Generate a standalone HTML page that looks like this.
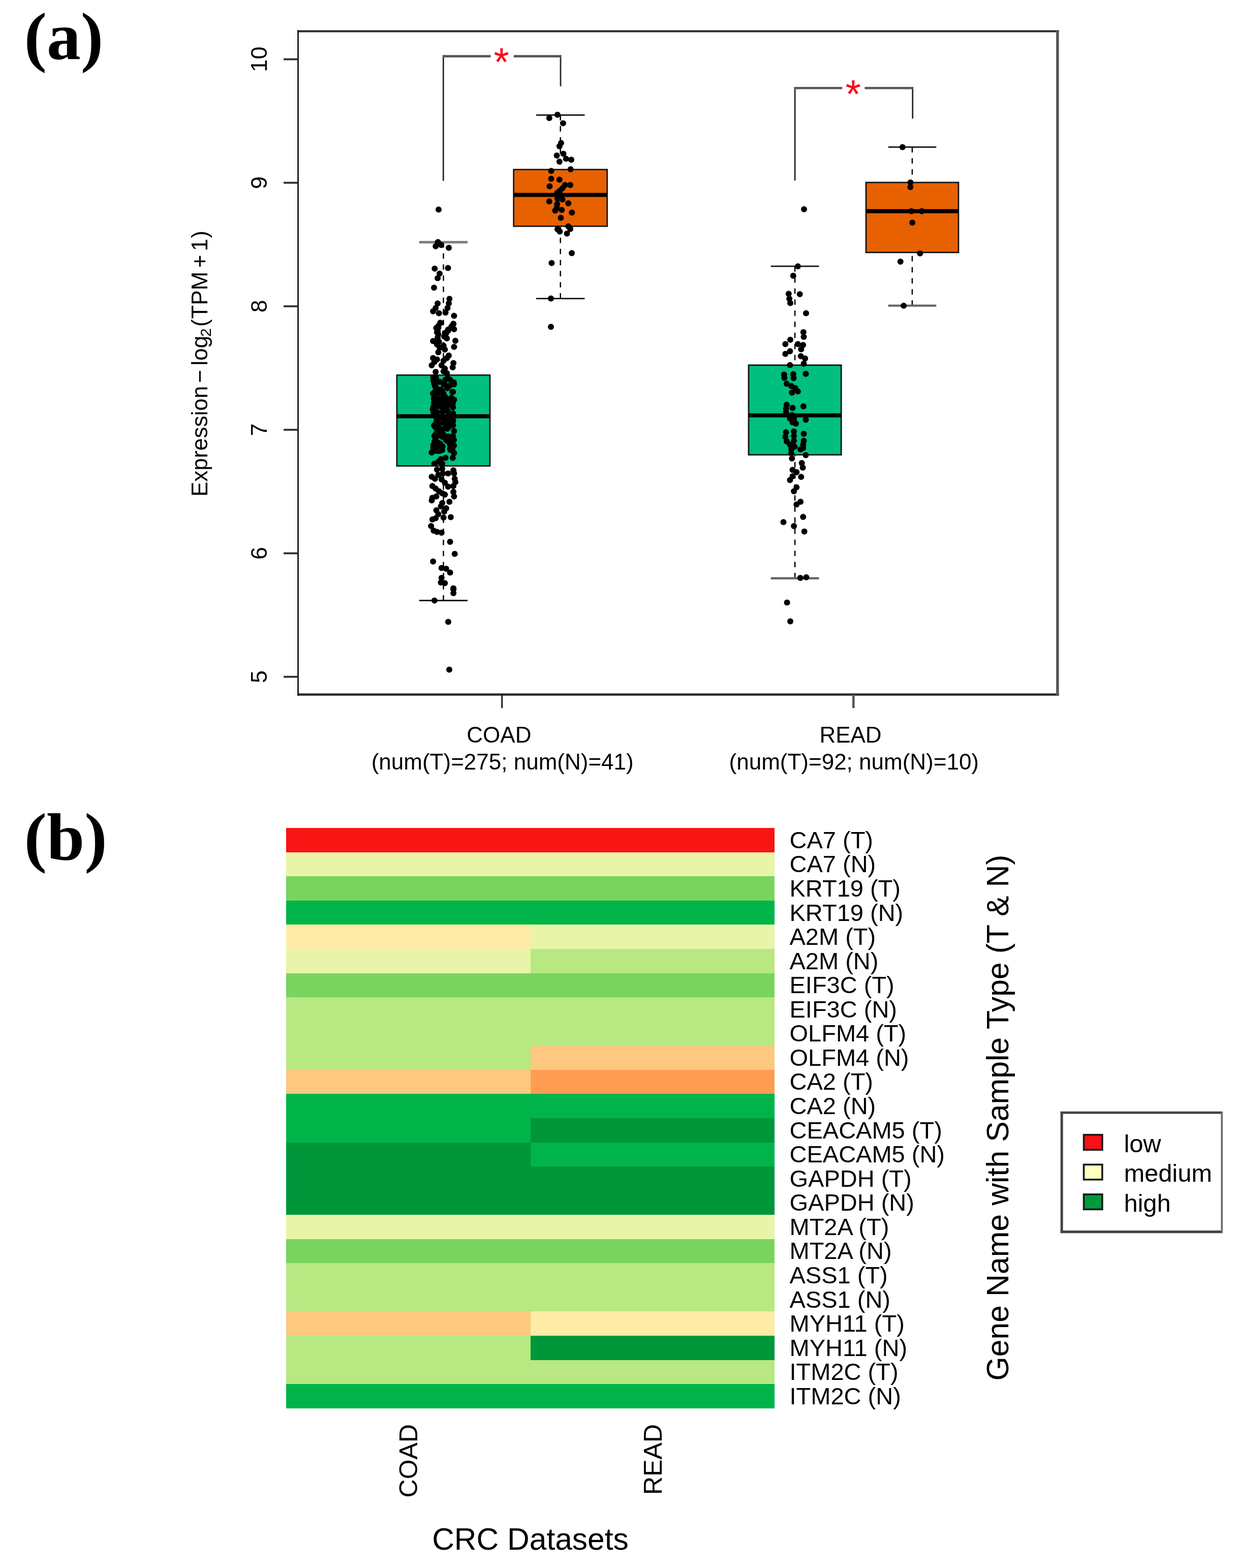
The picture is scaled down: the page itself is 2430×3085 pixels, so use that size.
<!DOCTYPE html>
<html lang="en"><head><meta charset="utf-8"><title>Figure</title>
<style>html,body{margin:0;padding:0;background:#fff}svg{display:block;filter:blur(0.7px)}text{white-space:pre}.s{font-family:"Liberation Sans",sans-serif}.b{font-family:"Liberation Serif",serif;font-weight:bold}</style>
</head><body>
<svg width="2430" height="3085" viewBox="0 0 2430 3085">
<rect width="2430" height="3085" fill="#fff"/>
<text transform="translate(47.5,115.7) scale(1.02,1)" class="b" font-size="131" fill="#000">(a)</text>
<text transform="translate(47.5,1691.4) scale(1.02,1)" class="b" font-size="131" fill="#000">(b)</text>
<line x1="872.5" y1="476.6" x2="872.5" y2="736.6" stroke="#000" stroke-width="2.5" stroke-dasharray="10.6 11.2"/>
<line x1="872.5" y1="1181.5" x2="872.5" y2="918.1" stroke="#000" stroke-width="2.5" stroke-dasharray="10.6 11.2"/>
<line x1="824.9" y1="476.6" x2="920.0" y2="476.6" stroke="#808080" stroke-width="5"/>
<line x1="824.9" y1="1181.5" x2="920.0" y2="1181.5" stroke="#111" stroke-width="2.8"/>
<rect x="780.9" y="738.0" width="183.1" height="178.7" fill="#00BF7F" stroke="#161616" stroke-width="2.8"/>
<line x1="780.9" y1="819.1" x2="964.0" y2="819.1" stroke="#000" stroke-width="8"/>
<line x1="1102.7" y1="226.3" x2="1102.7" y2="332.2" stroke="#000" stroke-width="2.5" stroke-dasharray="10.6 11.2"/>
<line x1="1102.7" y1="587.3" x2="1102.7" y2="446.5" stroke="#000" stroke-width="2.5" stroke-dasharray="10.6 11.2"/>
<line x1="1054.9" y1="226.3" x2="1150.5" y2="226.3" stroke="#111" stroke-width="2.8"/>
<line x1="1054.9" y1="587.3" x2="1150.5" y2="587.3" stroke="#111" stroke-width="2.8"/>
<rect x="1010.7" y="333.6" width="184.0" height="111.5" fill="#E86100" stroke="#161616" stroke-width="2.8"/>
<line x1="1010.7" y1="383.5" x2="1194.7" y2="383.5" stroke="#000" stroke-width="8"/>
<line x1="1564.1" y1="523.8" x2="1564.1" y2="717.0" stroke="#000" stroke-width="2.5" stroke-dasharray="10.6 11.2"/>
<line x1="1564.1" y1="1137.7" x2="1564.1" y2="896.2" stroke="#000" stroke-width="2.5" stroke-dasharray="10.6 11.2"/>
<line x1="1516.7" y1="523.8" x2="1611.5" y2="523.8" stroke="#111" stroke-width="2.8"/>
<line x1="1516.7" y1="1137.7" x2="1611.5" y2="1137.7" stroke="#666" stroke-width="4.4"/>
<rect x="1473.0" y="718.4" width="182.2" height="176.4" fill="#00BF7F" stroke="#161616" stroke-width="2.8"/>
<line x1="1473.0" y1="817.3" x2="1655.2" y2="817.3" stroke="#000" stroke-width="8"/>
<line x1="1794.9" y1="289.4" x2="1794.9" y2="357.6" stroke="#000" stroke-width="2.5" stroke-dasharray="10.6 11.2"/>
<line x1="1794.9" y1="601.4" x2="1794.9" y2="498.1" stroke="#000" stroke-width="2.5" stroke-dasharray="10.6 11.2"/>
<line x1="1747.7" y1="289.4" x2="1842.2" y2="289.4" stroke="#111" stroke-width="2.8"/>
<line x1="1747.7" y1="601.4" x2="1842.2" y2="601.4" stroke="#666" stroke-width="4.4"/>
<rect x="1704.0" y="359.0" width="181.9" height="137.7" fill="#E86100" stroke="#161616" stroke-width="2.8"/>
<line x1="1704.0" y1="415.6" x2="1885.9" y2="415.6" stroke="#000" stroke-width="8"/>
<g fill="#000">
<circle cx="863.0" cy="412.3" r="6"/>
<circle cx="861.7" cy="476.2" r="6"/>
<circle cx="857.2" cy="484.6" r="6"/>
<circle cx="868.2" cy="482.0" r="6"/>
<circle cx="883.0" cy="487.4" r="6"/>
<circle cx="855.3" cy="528.5" r="6"/>
<circle cx="881.5" cy="527.2" r="6"/>
<circle cx="865.0" cy="538.2" r="6"/>
<circle cx="861.1" cy="547.2" r="6"/>
<circle cx="854.0" cy="565.9" r="6"/>
<circle cx="884.3" cy="587.9" r="6"/>
<circle cx="883.0" cy="596.9" r="6"/>
<circle cx="880.5" cy="606.0" r="6"/>
<circle cx="876.6" cy="615.0" r="6"/>
<circle cx="861.1" cy="596.9" r="6"/>
<circle cx="857.2" cy="606.0" r="6"/>
<circle cx="852.1" cy="612.4" r="6"/>
<circle cx="863.7" cy="616.3" r="6"/>
<circle cx="893.4" cy="621.2" r="6"/>
<circle cx="866.3" cy="635.6" r="6"/>
<circle cx="862.4" cy="644.7" r="6"/>
<circle cx="859.8" cy="653.7" r="6"/>
<circle cx="892.1" cy="636.9" r="6"/>
<circle cx="888.2" cy="644.7" r="6"/>
<circle cx="881.7" cy="648.6" r="6"/>
<circle cx="875.3" cy="655.0" r="6"/>
<circle cx="866.3" cy="634.9" r="6"/>
<circle cx="892.1" cy="637.4" r="6"/>
<circle cx="862.4" cy="641.3" r="6"/>
<circle cx="858.5" cy="645.2" r="6"/>
<circle cx="888.2" cy="642.6" r="6"/>
<circle cx="893.4" cy="647.8" r="6"/>
<circle cx="881.7" cy="650.4" r="6"/>
<circle cx="861.1" cy="651.6" r="6"/>
<circle cx="877.9" cy="655.5" r="6"/>
<circle cx="862.4" cy="658.1" r="6"/>
<circle cx="874.0" cy="662.0" r="6"/>
<circle cx="879.2" cy="665.8" r="6"/>
<circle cx="861.1" cy="664.6" r="6"/>
<circle cx="852.1" cy="671.0" r="6"/>
<circle cx="896.0" cy="670.4" r="6"/>
<circle cx="863.7" cy="672.3" r="6"/>
<circle cx="859.8" cy="677.5" r="6"/>
<circle cx="893.4" cy="682.6" r="6"/>
<circle cx="872.7" cy="680.1" r="6"/>
<circle cx="865.0" cy="683.9" r="6"/>
<circle cx="875.3" cy="687.8" r="6"/>
<circle cx="862.4" cy="693.0" r="6"/>
<circle cx="883.0" cy="699.4" r="6"/>
<circle cx="852.1" cy="704.6" r="6"/>
<circle cx="879.2" cy="704.6" r="6"/>
<circle cx="859.8" cy="707.2" r="6"/>
<circle cx="872.7" cy="709.7" r="6"/>
<circle cx="854.6" cy="712.3" r="6"/>
<circle cx="892.1" cy="714.3" r="6"/>
<circle cx="849.5" cy="718.8" r="6"/>
<circle cx="868.8" cy="718.8" r="6"/>
<circle cx="890.8" cy="722.7" r="6"/>
<circle cx="875.3" cy="725.2" r="6"/>
<circle cx="857.2" cy="731.7" r="6"/>
<circle cx="872.7" cy="730.4" r="6"/>
<circle cx="879.2" cy="734.3" r="6"/>
<circle cx="849.5" cy="890.3" r="6"/>
<circle cx="855.9" cy="886.5" r="6"/>
<circle cx="862.4" cy="883.9" r="6"/>
<circle cx="870.1" cy="885.2" r="6"/>
<circle cx="893.4" cy="891.6" r="6"/>
<circle cx="890.8" cy="900.7" r="6"/>
<circle cx="885.6" cy="882.6" r="6"/>
<circle cx="876.6" cy="900.7" r="6"/>
<circle cx="867.5" cy="903.2" r="6"/>
<circle cx="862.4" cy="908.4" r="6"/>
<circle cx="854.6" cy="912.3" r="6"/>
<circle cx="870.1" cy="912.3" r="6"/>
<circle cx="859.8" cy="923.9" r="6"/>
<circle cx="870.1" cy="922.6" r="6"/>
<circle cx="892.1" cy="925.2" r="6"/>
<circle cx="893.4" cy="931.6" r="6"/>
<circle cx="881.7" cy="931.6" r="6"/>
<circle cx="871.4" cy="931.6" r="6"/>
<circle cx="862.4" cy="934.2" r="6"/>
<circle cx="849.5" cy="938.1" r="6"/>
<circle cx="855.9" cy="942.0" r="6"/>
<circle cx="894.7" cy="942.0" r="6"/>
<circle cx="896.0" cy="948.4" r="6"/>
<circle cx="868.8" cy="943.3" r="6"/>
<circle cx="875.3" cy="949.7" r="6"/>
<circle cx="892.1" cy="956.2" r="6"/>
<circle cx="881.7" cy="957.5" r="6"/>
<circle cx="850.8" cy="956.2" r="6"/>
<circle cx="857.2" cy="961.3" r="6"/>
<circle cx="863.7" cy="966.5" r="6"/>
<circle cx="870.1" cy="970.4" r="6"/>
<circle cx="875.3" cy="973.0" r="6"/>
<circle cx="892.1" cy="967.8" r="6"/>
<circle cx="893.4" cy="976.8" r="6"/>
<circle cx="850.8" cy="979.4" r="6"/>
<circle cx="858.5" cy="976.8" r="6"/>
<circle cx="849.5" cy="984.6" r="6"/>
<circle cx="884.3" cy="987.2" r="6"/>
<circle cx="870.1" cy="989.7" r="6"/>
<circle cx="867.5" cy="996.2" r="6"/>
<circle cx="877.9" cy="1000.1" r="6"/>
<circle cx="858.5" cy="1004.0" r="6"/>
<circle cx="874.0" cy="1006.5" r="6"/>
<circle cx="862.4" cy="1011.7" r="6"/>
<circle cx="886.9" cy="1017.5" r="6"/>
<circle cx="872.7" cy="1018.2" r="6"/>
<circle cx="857.2" cy="1019.4" r="6"/>
<circle cx="850.8" cy="1022.0" r="6"/>
<circle cx="848.2" cy="1034.9" r="6"/>
<circle cx="853.3" cy="1044.0" r="6"/>
<circle cx="859.8" cy="1046.6" r="6"/>
<circle cx="868.8" cy="1047.9" r="6"/>
<circle cx="885.6" cy="1065.9" r="6"/>
<circle cx="894.7" cy="1089.8" r="6"/>
<circle cx="852.1" cy="1104.7" r="6"/>
<circle cx="868.8" cy="1117.6" r="6"/>
<circle cx="877.9" cy="1118.9" r="6"/>
<circle cx="885.6" cy="1126.6" r="6"/>
<circle cx="868.8" cy="1136.9" r="6"/>
<circle cx="867.5" cy="1146.0" r="6"/>
<circle cx="875.3" cy="1147.3" r="6"/>
<circle cx="892.1" cy="1157.6" r="6"/>
<circle cx="882.0" cy="1223.4" r="6"/>
<circle cx="884.0" cy="1317.6" r="6"/>
<circle cx="854.8" cy="1181.5" r="6"/>
<circle cx="892.2" cy="1159.5" r="6"/>
<circle cx="892.2" cy="1166.9" r="6"/>
<circle cx="879.0" cy="799.8" r="6"/>
<circle cx="854.7" cy="857.4" r="6"/>
<circle cx="854.1" cy="749.2" r="6"/>
<circle cx="873.0" cy="803.0" r="6"/>
<circle cx="854.6" cy="837.7" r="6"/>
<circle cx="886.4" cy="885.4" r="6"/>
<circle cx="856.9" cy="861.5" r="6"/>
<circle cx="891.5" cy="836.6" r="6"/>
<circle cx="892.7" cy="752.3" r="6"/>
<circle cx="853.7" cy="783.9" r="6"/>
<circle cx="857.8" cy="858.1" r="6"/>
<circle cx="856.6" cy="770.8" r="6"/>
<circle cx="859.3" cy="769.4" r="6"/>
<circle cx="867.3" cy="766.5" r="6"/>
<circle cx="854.2" cy="793.2" r="6"/>
<circle cx="860.4" cy="811.0" r="6"/>
<circle cx="864.9" cy="785.4" r="6"/>
<circle cx="876.3" cy="747.2" r="6"/>
<circle cx="885.1" cy="758.4" r="6"/>
<circle cx="881.1" cy="837.4" r="6"/>
<circle cx="873.8" cy="822.6" r="6"/>
<circle cx="856.7" cy="769.4" r="6"/>
<circle cx="858.1" cy="881.1" r="6"/>
<circle cx="879.8" cy="797.8" r="6"/>
<circle cx="883.8" cy="820.5" r="6"/>
<circle cx="864.9" cy="751.2" r="6"/>
<circle cx="876.1" cy="785.0" r="6"/>
<circle cx="891.4" cy="858.0" r="6"/>
<circle cx="854.2" cy="837.0" r="6"/>
<circle cx="893.4" cy="786.5" r="6"/>
<circle cx="867.9" cy="845.8" r="6"/>
<circle cx="879.8" cy="763.8" r="6"/>
<circle cx="858.8" cy="830.8" r="6"/>
<circle cx="884.0" cy="838.4" r="6"/>
<circle cx="857.1" cy="836.5" r="6"/>
<circle cx="888.3" cy="820.1" r="6"/>
<circle cx="874.8" cy="858.7" r="6"/>
<circle cx="869.1" cy="858.8" r="6"/>
<circle cx="866.8" cy="773.3" r="6"/>
<circle cx="861.4" cy="846.2" r="6"/>
<circle cx="861.5" cy="856.9" r="6"/>
<circle cx="862.7" cy="828.4" r="6"/>
<circle cx="867.2" cy="821.0" r="6"/>
<circle cx="880.7" cy="743.9" r="6"/>
<circle cx="880.1" cy="808.9" r="6"/>
<circle cx="884.5" cy="872.5" r="6"/>
<circle cx="856.0" cy="760.0" r="6"/>
<circle cx="878.3" cy="866.4" r="6"/>
<circle cx="860.5" cy="844.9" r="6"/>
<circle cx="858.5" cy="829.7" r="6"/>
<circle cx="851.7" cy="805.8" r="6"/>
<circle cx="858.1" cy="839.8" r="6"/>
<circle cx="852.8" cy="876.3" r="6"/>
<circle cx="888.4" cy="861.4" r="6"/>
<circle cx="862.3" cy="786.9" r="6"/>
<circle cx="866.3" cy="791.1" r="6"/>
<circle cx="887.4" cy="793.8" r="6"/>
<circle cx="893.4" cy="847.9" r="6"/>
<circle cx="855.3" cy="837.3" r="6"/>
<circle cx="862.8" cy="874.0" r="6"/>
<circle cx="886.5" cy="860.1" r="6"/>
<circle cx="891.6" cy="827.6" r="6"/>
<circle cx="873.9" cy="832.8" r="6"/>
<circle cx="852.8" cy="875.8" r="6"/>
<circle cx="888.0" cy="782.5" r="6"/>
<circle cx="867.1" cy="799.6" r="6"/>
<circle cx="858.7" cy="764.0" r="6"/>
<circle cx="884.4" cy="831.7" r="6"/>
<circle cx="885.8" cy="793.4" r="6"/>
<circle cx="893.1" cy="865.7" r="6"/>
<circle cx="861.2" cy="870.2" r="6"/>
<circle cx="852.9" cy="749.1" r="6"/>
<circle cx="852.9" cy="811.2" r="6"/>
<circle cx="880.8" cy="808.3" r="6"/>
<circle cx="891.9" cy="876.1" r="6"/>
<circle cx="893.2" cy="876.4" r="6"/>
<circle cx="861.0" cy="887.6" r="6"/>
<circle cx="861.2" cy="799.1" r="6"/>
<circle cx="877.9" cy="835.7" r="6"/>
<circle cx="889.5" cy="866.9" r="6"/>
<circle cx="879.1" cy="865.1" r="6"/>
<circle cx="885.3" cy="746.8" r="6"/>
<circle cx="889.9" cy="875.0" r="6"/>
<circle cx="871.8" cy="844.2" r="6"/>
<circle cx="865.7" cy="876.5" r="6"/>
<circle cx="868.3" cy="881.9" r="6"/>
<circle cx="857.0" cy="811.8" r="6"/>
<circle cx="858.0" cy="773.8" r="6"/>
<circle cx="857.8" cy="742.5" r="6"/>
<circle cx="874.7" cy="780.7" r="6"/>
<circle cx="857.2" cy="760.8" r="6"/>
<circle cx="879.0" cy="836.8" r="6"/>
<circle cx="869.9" cy="790.0" r="6"/>
<circle cx="864.0" cy="832.8" r="6"/>
<circle cx="861.8" cy="874.4" r="6"/>
<circle cx="869.3" cy="769.2" r="6"/>
<circle cx="857.2" cy="789.0" r="6"/>
<circle cx="870.9" cy="878.2" r="6"/>
<circle cx="876.2" cy="781.5" r="6"/>
<circle cx="890.2" cy="883.6" r="6"/>
<circle cx="872.8" cy="774.7" r="6"/>
<circle cx="852.5" cy="800.9" r="6"/>
<circle cx="851.9" cy="774.6" r="6"/>
<circle cx="885.3" cy="836.5" r="6"/>
<circle cx="882.2" cy="858.8" r="6"/>
<circle cx="873.5" cy="756.5" r="6"/>
<circle cx="875.0" cy="795.9" r="6"/>
<circle cx="875.2" cy="826.6" r="6"/>
<circle cx="862.1" cy="784.3" r="6"/>
<circle cx="873.0" cy="797.3" r="6"/>
<circle cx="890.0" cy="771.1" r="6"/>
<circle cx="872.9" cy="855.1" r="6"/>
<circle cx="870.7" cy="810.2" r="6"/>
<circle cx="891.2" cy="801.2" r="6"/>
<circle cx="891.3" cy="770.9" r="6"/>
<circle cx="891.3" cy="813.2" r="6"/>
<circle cx="856.8" cy="840.8" r="6"/>
<circle cx="870.3" cy="784.6" r="6"/>
<circle cx="854.8" cy="869.0" r="6"/>
<circle cx="879.8" cy="843.5" r="6"/>
<circle cx="858.2" cy="852.8" r="6"/>
<circle cx="857.7" cy="795.7" r="6"/>
<circle cx="868.4" cy="854.2" r="6"/>
<circle cx="886.7" cy="837.2" r="6"/>
<circle cx="873.4" cy="861.1" r="6"/>
<circle cx="865.9" cy="886.7" r="6"/>
<circle cx="882.0" cy="841.0" r="6"/>
<circle cx="852.5" cy="880.9" r="6"/>
<circle cx="852.5" cy="742.8" r="6"/>
<circle cx="865.6" cy="792.1" r="6"/>
<circle cx="854.4" cy="755.0" r="6"/>
<circle cx="893.1" cy="755.9" r="6"/>
<circle cx="856.1" cy="866.8" r="6"/>
<circle cx="884.4" cy="816.9" r="6"/>
<circle cx="863.1" cy="840.2" r="6"/>
<circle cx="890.0" cy="872.9" r="6"/>
<circle cx="886.1" cy="876.1" r="6"/>
<circle cx="890.3" cy="816.7" r="6"/>
<circle cx="875.7" cy="861.6" r="6"/>
<circle cx="854.1" cy="809.0" r="6"/>
<circle cx="880.6" cy="788.1" r="6"/>
<circle cx="891.1" cy="793.1" r="6"/>
<circle cx="878.3" cy="832.2" r="6"/>
<circle cx="887.7" cy="829.0" r="6"/>
<circle cx="854.5" cy="789.3" r="6"/>
<circle cx="865.9" cy="872.7" r="6"/>
<circle cx="874.9" cy="756.4" r="6"/>
<circle cx="857.1" cy="872.0" r="6"/>
<circle cx="873.8" cy="792.7" r="6"/>
<circle cx="858.5" cy="821.6" r="6"/>
<circle cx="1096.9" cy="225.8" r="6"/>
<circle cx="1080.8" cy="232.3" r="6"/>
<circle cx="1107.9" cy="242.6" r="6"/>
<circle cx="1104.0" cy="281.3" r="6"/>
<circle cx="1100.8" cy="287.8" r="6"/>
<circle cx="1095.6" cy="305.9" r="6"/>
<circle cx="1108.5" cy="302.6" r="6"/>
<circle cx="1113.7" cy="312.3" r="6"/>
<circle cx="1124.0" cy="314.3" r="6"/>
<circle cx="1100.8" cy="318.1" r="6"/>
<circle cx="1122.7" cy="333.0" r="6"/>
<circle cx="1084.6" cy="336.2" r="6"/>
<circle cx="1084.6" cy="351.7" r="6"/>
<circle cx="1100.8" cy="353.6" r="6"/>
<circle cx="1081.4" cy="366.6" r="6"/>
<circle cx="1122.1" cy="364.0" r="6"/>
<circle cx="1111.7" cy="364.0" r="6"/>
<circle cx="1106.6" cy="370.4" r="6"/>
<circle cx="1101.4" cy="375.6" r="6"/>
<circle cx="1096.3" cy="379.5" r="6"/>
<circle cx="1097.5" cy="384.6" r="6"/>
<circle cx="1096.9" cy="391.1" r="6"/>
<circle cx="1106.6" cy="392.4" r="6"/>
<circle cx="1080.8" cy="396.3" r="6"/>
<circle cx="1118.2" cy="400.1" r="6"/>
<circle cx="1096.3" cy="401.4" r="6"/>
<circle cx="1095.6" cy="409.2" r="6"/>
<circle cx="1092.4" cy="414.3" r="6"/>
<circle cx="1105.3" cy="413.0" r="6"/>
<circle cx="1125.3" cy="418.2" r="6"/>
<circle cx="1103.4" cy="428.5" r="6"/>
<circle cx="1118.2" cy="445.3" r="6"/>
<circle cx="1122.1" cy="450.5" r="6"/>
<circle cx="1096.9" cy="451.1" r="6"/>
<circle cx="1101.4" cy="455.6" r="6"/>
<circle cx="1115.6" cy="459.5" r="6"/>
<circle cx="1125.0" cy="498.0" r="6"/>
<circle cx="1085.4" cy="517.6" r="6"/>
<circle cx="1084.0" cy="587.3" r="6"/>
<circle cx="1084.0" cy="642.9" r="6"/>
<circle cx="1569.9" cy="523.9" r="6"/>
<circle cx="1560.8" cy="542.6" r="6"/>
<circle cx="1551.8" cy="578.1" r="6"/>
<circle cx="1573.7" cy="578.8" r="6"/>
<circle cx="1553.1" cy="587.8" r="6"/>
<circle cx="1555.0" cy="596.2" r="6"/>
<circle cx="1586.0" cy="616.2" r="6"/>
<circle cx="1580.8" cy="653.6" r="6"/>
<circle cx="1581.5" cy="662.7" r="6"/>
<circle cx="1555.0" cy="668.5" r="6"/>
<circle cx="1545.3" cy="676.9" r="6"/>
<circle cx="1569.9" cy="676.9" r="6"/>
<circle cx="1580.2" cy="678.8" r="6"/>
<circle cx="1576.3" cy="687.2" r="6"/>
<circle cx="1554.4" cy="691.1" r="6"/>
<circle cx="1545.3" cy="696.3" r="6"/>
<circle cx="1575.7" cy="700.8" r="6"/>
<circle cx="1584.1" cy="705.3" r="6"/>
<circle cx="1581.5" cy="715.6" r="6"/>
<circle cx="1554.4" cy="718.2" r="6"/>
<circle cx="1585.4" cy="735.6" r="6"/>
<circle cx="1542.8" cy="736.9" r="6"/>
<circle cx="1560.8" cy="736.3" r="6"/>
<circle cx="1543.4" cy="743.4" r="6"/>
<circle cx="1561.5" cy="744.0" r="6"/>
<circle cx="1547.9" cy="755.0" r="6"/>
<circle cx="1557.0" cy="759.5" r="6"/>
<circle cx="1564.7" cy="763.4" r="6"/>
<circle cx="1569.9" cy="769.9" r="6"/>
<circle cx="1558.3" cy="772.4" r="6"/>
<circle cx="1547.9" cy="796.2" r="6"/>
<circle cx="1546.6" cy="803.9" r="6"/>
<circle cx="1559.5" cy="802.6" r="6"/>
<circle cx="1580.8" cy="799.4" r="6"/>
<circle cx="1546.6" cy="811.6" r="6"/>
<circle cx="1558.3" cy="816.8" r="6"/>
<circle cx="1554.4" cy="823.3" r="6"/>
<circle cx="1562.1" cy="824.6" r="6"/>
<circle cx="1585.4" cy="825.8" r="6"/>
<circle cx="1559.5" cy="831.0" r="6"/>
<circle cx="1566.0" cy="833.6" r="6"/>
<circle cx="1546.6" cy="850.4" r="6"/>
<circle cx="1562.1" cy="849.1" r="6"/>
<circle cx="1581.5" cy="853.6" r="6"/>
<circle cx="1545.3" cy="859.4" r="6"/>
<circle cx="1562.1" cy="858.1" r="6"/>
<circle cx="1547.9" cy="868.5" r="6"/>
<circle cx="1562.1" cy="867.2" r="6"/>
<circle cx="1581.5" cy="867.2" r="6"/>
<circle cx="1554.4" cy="874.9" r="6"/>
<circle cx="1580.2" cy="874.9" r="6"/>
<circle cx="1563.4" cy="878.8" r="6"/>
<circle cx="1557.0" cy="884.0" r="6"/>
<circle cx="1575.0" cy="884.0" r="6"/>
<circle cx="1580.2" cy="881.4" r="6"/>
<circle cx="1557.0" cy="891.7" r="6"/>
<circle cx="1585.4" cy="895.6" r="6"/>
<circle cx="1558.3" cy="902.0" r="6"/>
<circle cx="1577.6" cy="911.1" r="6"/>
<circle cx="1579.6" cy="920.1" r="6"/>
<circle cx="1559.5" cy="924.6" r="6"/>
<circle cx="1567.3" cy="929.1" r="6"/>
<circle cx="1559.5" cy="936.9" r="6"/>
<circle cx="1576.3" cy="938.2" r="6"/>
<circle cx="1554.4" cy="944.6" r="6"/>
<circle cx="1567.3" cy="958.8" r="6"/>
<circle cx="1562.1" cy="966.6" r="6"/>
<circle cx="1575.0" cy="987.2" r="6"/>
<circle cx="1567.3" cy="992.4" r="6"/>
<circle cx="1580.2" cy="1016.9" r="6"/>
<circle cx="1541.5" cy="1027.3" r="6"/>
<circle cx="1562.1" cy="1035.0" r="6"/>
<circle cx="1582.6" cy="1045.8" r="6"/>
<circle cx="1574.7" cy="1137.1" r="6"/>
<circle cx="1586.4" cy="1135.7" r="6"/>
<circle cx="1582.0" cy="411.8" r="6"/>
<circle cx="1548.6" cy="1185.5" r="6"/>
<circle cx="1555.0" cy="1222.5" r="6"/>
<circle cx="1775.8" cy="289.4" r="6"/>
<circle cx="1791.3" cy="359.1" r="6"/>
<circle cx="1791.3" cy="367.9" r="6"/>
<circle cx="1793.3" cy="415.6" r="6"/>
<circle cx="1813.8" cy="415.6" r="6"/>
<circle cx="1795.1" cy="438.1" r="6"/>
<circle cx="1810.3" cy="498.6" r="6"/>
<circle cx="1771.7" cy="514.7" r="6"/>
<circle cx="1778.1" cy="601.4" r="6"/>
</g>
<line x1="585.3" y1="61.5" x2="2083.6" y2="61.5" stroke="#2b2b2b" stroke-width="4"/>
<line x1="585.3" y1="1366.5" x2="2083.6" y2="1366.5" stroke="#2b2b2b" stroke-width="4.6"/>
<line x1="586.5" y1="59.5" x2="586.5" y2="1368.8" stroke="#000" stroke-width="2.6"/>
<line x1="2080.8" y1="59.5" x2="2080.8" y2="1368.8" stroke="#565656" stroke-width="5.4"/>
<line x1="558" y1="1331.6" x2="586.5" y2="1331.6" stroke="#2e2e2e" stroke-width="3.8"/>
<text transform="translate(524.8,1331.6) rotate(-90)" text-anchor="middle" class="s" font-size="45" fill="#000">5</text>
<line x1="558" y1="1088.6" x2="586.5" y2="1088.6" stroke="#2e2e2e" stroke-width="3.8"/>
<text transform="translate(524.8,1088.6) rotate(-90)" text-anchor="middle" class="s" font-size="45" fill="#000">6</text>
<line x1="558" y1="845.6" x2="586.5" y2="845.6" stroke="#2e2e2e" stroke-width="3.8"/>
<text transform="translate(524.8,845.6) rotate(-90)" text-anchor="middle" class="s" font-size="45" fill="#000">7</text>
<line x1="558" y1="602.6" x2="586.5" y2="602.6" stroke="#2e2e2e" stroke-width="3.8"/>
<text transform="translate(524.8,602.6) rotate(-90)" text-anchor="middle" class="s" font-size="45" fill="#000">8</text>
<line x1="558" y1="359.6" x2="586.5" y2="359.6" stroke="#2e2e2e" stroke-width="3.8"/>
<text transform="translate(524.8,359.6) rotate(-90)" text-anchor="middle" class="s" font-size="45" fill="#000">9</text>
<line x1="558" y1="116.6" x2="586.5" y2="116.6" stroke="#2e2e2e" stroke-width="3.8"/>
<text transform="translate(524.8,116.6) rotate(-90)" text-anchor="middle" class="s" font-size="45" fill="#000">10</text>
<line x1="987.7" y1="1366.5" x2="987.7" y2="1393.2" stroke="#111" stroke-width="2.8"/>
<text x="981.9000000000001" y="1461.2" text-anchor="middle" class="s" font-size="44" fill="#000">COAD</text>
<text x="988.7" y="1513.9" text-anchor="middle" class="s" font-size="44" fill="#000">(num(T)=275; num(N)=41)</text>
<line x1="1679.3" y1="1366.5" x2="1679.3" y2="1393.2" stroke="#555" stroke-width="4.6"/>
<text x="1673.5" y="1461.2" text-anchor="middle" class="s" font-size="44" fill="#000">READ</text>
<text x="1680.3" y="1513.9" text-anchor="middle" class="s" font-size="44" fill="#000">(num(T)=92; num(N)=10)</text>
<text transform="translate(407.8,715.4) rotate(-90)" text-anchor="middle" class="s" font-size="44" fill="#000">Expression<tspan dx="6.2">−</tspan><tspan dx="8.2">log</tspan><tspan font-size="30" dy="7.5" dx="-2">2</tspan><tspan dy="-7.5" dx="3">(</tspan><tspan dx="1">TPM</tspan><tspan dx="7.4">+</tspan><tspan dx="7.3">1</tspan><tspan dx="1">)</tspan></text>
<path d="M872.3 355.7 V108.39999999999999 M1103 108.39999999999999 V169.8" fill="none" stroke="#262626" stroke-width="2.8"/>
<path d="M870.9 110.6 H965.4 M1010.8 110.6 H1104.4" fill="none" stroke="#585858" stroke-width="4.6"/>
<text x="986.6" y="148.9" text-anchor="middle" class="s" font-size="78" fill="#FF0018">*</text>
<path d="M1564.1 355.3 V171.0 M1795.7 171.0 V233.2" fill="none" stroke="#262626" stroke-width="2.8"/>
<path d="M1562.6999999999998 173.2 H1657.2 M1701.4 173.2 H1797.1000000000001" fill="none" stroke="#585858" stroke-width="4.6"/>
<text x="1678.6" y="212.4" text-anchor="middle" class="s" font-size="78" fill="#FF0018">*</text>
<g shape-rendering="crispEdges">
<rect x="563.2" y="1629.20" width="480.3" height="48.16" fill="#F91414"/>
<rect x="1043.5" y="1629.20" width="480.3" height="48.16" fill="#F91414"/>
<rect x="563.2" y="1676.76" width="480.3" height="48.16" fill="#E8F5A8"/>
<rect x="1043.5" y="1676.76" width="480.3" height="48.16" fill="#E8F5A8"/>
<rect x="563.2" y="1724.33" width="480.3" height="48.16" fill="#78D45F"/>
<rect x="1043.5" y="1724.33" width="480.3" height="48.16" fill="#78D45F"/>
<rect x="563.2" y="1771.89" width="480.3" height="48.16" fill="#00B44A"/>
<rect x="1043.5" y="1771.89" width="480.3" height="48.16" fill="#00B44A"/>
<rect x="563.2" y="1819.45" width="480.3" height="48.16" fill="#FEEBA5"/>
<rect x="1043.5" y="1819.45" width="480.3" height="48.16" fill="#E8F5A8"/>
<rect x="563.2" y="1867.01" width="480.3" height="48.16" fill="#E8F5A8"/>
<rect x="1043.5" y="1867.01" width="480.3" height="48.16" fill="#B8E882"/>
<rect x="563.2" y="1914.58" width="480.3" height="48.16" fill="#78D45F"/>
<rect x="1043.5" y="1914.58" width="480.3" height="48.16" fill="#78D45F"/>
<rect x="563.2" y="1962.14" width="480.3" height="48.16" fill="#B8E882"/>
<rect x="1043.5" y="1962.14" width="480.3" height="48.16" fill="#B8E882"/>
<rect x="563.2" y="2009.70" width="480.3" height="48.16" fill="#B8E882"/>
<rect x="1043.5" y="2009.70" width="480.3" height="48.16" fill="#B8E882"/>
<rect x="563.2" y="2057.26" width="480.3" height="48.16" fill="#B8E882"/>
<rect x="1043.5" y="2057.26" width="480.3" height="48.16" fill="#FEC87F"/>
<rect x="563.2" y="2104.82" width="480.3" height="48.16" fill="#FEC87F"/>
<rect x="1043.5" y="2104.82" width="480.3" height="48.16" fill="#FE9D52"/>
<rect x="563.2" y="2152.39" width="480.3" height="48.16" fill="#00B44A"/>
<rect x="1043.5" y="2152.39" width="480.3" height="48.16" fill="#00B44A"/>
<rect x="563.2" y="2199.95" width="480.3" height="48.16" fill="#00B44A"/>
<rect x="1043.5" y="2199.95" width="480.3" height="48.16" fill="#00963A"/>
<rect x="563.2" y="2247.51" width="480.3" height="48.16" fill="#00963A"/>
<rect x="1043.5" y="2247.51" width="480.3" height="48.16" fill="#00B44A"/>
<rect x="563.2" y="2295.07" width="480.3" height="48.16" fill="#00963A"/>
<rect x="1043.5" y="2295.07" width="480.3" height="48.16" fill="#00963A"/>
<rect x="563.2" y="2342.64" width="480.3" height="48.16" fill="#00963A"/>
<rect x="1043.5" y="2342.64" width="480.3" height="48.16" fill="#00963A"/>
<rect x="563.2" y="2390.20" width="480.3" height="48.16" fill="#E8F5A8"/>
<rect x="1043.5" y="2390.20" width="480.3" height="48.16" fill="#E8F5A8"/>
<rect x="563.2" y="2437.76" width="480.3" height="48.16" fill="#78D45F"/>
<rect x="1043.5" y="2437.76" width="480.3" height="48.16" fill="#78D45F"/>
<rect x="563.2" y="2485.32" width="480.3" height="48.16" fill="#B8E882"/>
<rect x="1043.5" y="2485.32" width="480.3" height="48.16" fill="#B8E882"/>
<rect x="563.2" y="2532.89" width="480.3" height="48.16" fill="#B8E882"/>
<rect x="1043.5" y="2532.89" width="480.3" height="48.16" fill="#B8E882"/>
<rect x="563.2" y="2580.45" width="480.3" height="48.16" fill="#FEC87F"/>
<rect x="1043.5" y="2580.45" width="480.3" height="48.16" fill="#FEEBA5"/>
<rect x="563.2" y="2628.01" width="480.3" height="48.16" fill="#B8E882"/>
<rect x="1043.5" y="2628.01" width="480.3" height="48.16" fill="#00963A"/>
<rect x="563.2" y="2675.57" width="480.3" height="48.16" fill="#B8E882"/>
<rect x="1043.5" y="2675.57" width="480.3" height="48.16" fill="#B8E882"/>
<rect x="563.2" y="2723.14" width="480.3" height="48.16" fill="#00B44A"/>
<rect x="1043.5" y="2723.14" width="480.3" height="48.16" fill="#00B44A"/>
</g>
<text x="1553.5" y="1668.8" class="s" font-size="47" fill="#000">CA7 (T)</text>
<text x="1553.5" y="1716.3" class="s" font-size="47" fill="#000">CA7 (N)</text>
<text x="1553.5" y="1763.9" class="s" font-size="47" fill="#000">KRT19 (T)</text>
<text x="1553.5" y="1811.5" class="s" font-size="47" fill="#000">KRT19 (N)</text>
<text x="1553.5" y="1859.0" class="s" font-size="47" fill="#000">A2M (T)</text>
<text x="1553.5" y="1906.6" class="s" font-size="47" fill="#000">A2M (N)</text>
<text x="1553.5" y="1954.2" class="s" font-size="47" fill="#000">EIF3C (T)</text>
<text x="1553.5" y="2001.7" class="s" font-size="47" fill="#000">EIF3C (N)</text>
<text x="1553.5" y="2049.3" class="s" font-size="47" fill="#000">OLFM4 (T)</text>
<text x="1553.5" y="2096.8" class="s" font-size="47" fill="#000">OLFM4 (N)</text>
<text x="1553.5" y="2144.4" class="s" font-size="47" fill="#000">CA2 (T)</text>
<text x="1553.5" y="2192.0" class="s" font-size="47" fill="#000">CA2 (N)</text>
<text x="1553.5" y="2239.5" class="s" font-size="47" fill="#000">CEACAM5 (T)</text>
<text x="1553.5" y="2287.1" class="s" font-size="47" fill="#000">CEACAM5 (N)</text>
<text x="1553.5" y="2334.7" class="s" font-size="47" fill="#000">GAPDH (T)</text>
<text x="1553.5" y="2382.2" class="s" font-size="47" fill="#000">GAPDH (N)</text>
<text x="1553.5" y="2429.8" class="s" font-size="47" fill="#000">MT2A (T)</text>
<text x="1553.5" y="2477.3" class="s" font-size="47" fill="#000">MT2A (N)</text>
<text x="1553.5" y="2524.9" class="s" font-size="47" fill="#000">ASS1 (T)</text>
<text x="1553.5" y="2572.5" class="s" font-size="47" fill="#000">ASS1 (N)</text>
<text x="1553.5" y="2620.0" class="s" font-size="47" fill="#000">MYH11 (T)</text>
<text x="1553.5" y="2667.6" class="s" font-size="47" fill="#000">MYH11 (N)</text>
<text x="1553.5" y="2715.2" class="s" font-size="47" fill="#000">ITM2C (T)</text>
<text x="1553.5" y="2762.7" class="s" font-size="47" fill="#000">ITM2C (N)</text>
<text transform="translate(821.4,2802) rotate(-90)" text-anchor="end" class="s" font-size="50" fill="#000">COAD</text>
<text transform="translate(1301.7,2802) rotate(-90)" text-anchor="end" class="s" font-size="50" fill="#000">READ</text>
<text x="1043.5" y="3048.8" text-anchor="middle" class="s" font-size="60.5" fill="#000">CRC Datasets</text>
<text transform="translate(1983.7,2199) rotate(-90)" text-anchor="middle" class="s" font-size="60.8" fill="#000">Gene Name with Sample Type (T &amp; N)</text>
<rect x="2089.1" y="2189.2" width="314.9" height="234.4" fill="#fff"/>
<line x1="2086.6" y1="2189.2" x2="2405.8" y2="2189.2" stroke="#444" stroke-width="4.8"/>
<line x1="2086.6" y1="2423.6" x2="2405.8" y2="2423.6" stroke="#444" stroke-width="5.2"/>
<line x1="2089.1" y1="2187" x2="2089.1" y2="2426" stroke="#444" stroke-width="5"/>
<line x1="2404.1" y1="2187" x2="2404.1" y2="2426" stroke="#6a6a6a" stroke-width="3.6"/>
<rect x="2132.5" y="2232.7" width="36.3" height="29.5" fill="#F81018" stroke="#1a1a1a" stroke-width="3.6"/>
<text x="2211.4" y="2266.5" class="s" font-size="48.8" fill="#000">low</text>
<rect x="2132.5" y="2291.3" width="36.3" height="29.5" fill="#FFFFBF" stroke="#1a1a1a" stroke-width="3.6"/>
<text x="2211.4" y="2325.1" class="s" font-size="48.8" fill="#000">medium</text>
<rect x="2132.5" y="2349.9" width="36.3" height="29.5" fill="#009A3E" stroke="#1a1a1a" stroke-width="3.6"/>
<text x="2211.4" y="2383.7" class="s" font-size="48.8" fill="#000">high</text>
</svg>
</body></html>
